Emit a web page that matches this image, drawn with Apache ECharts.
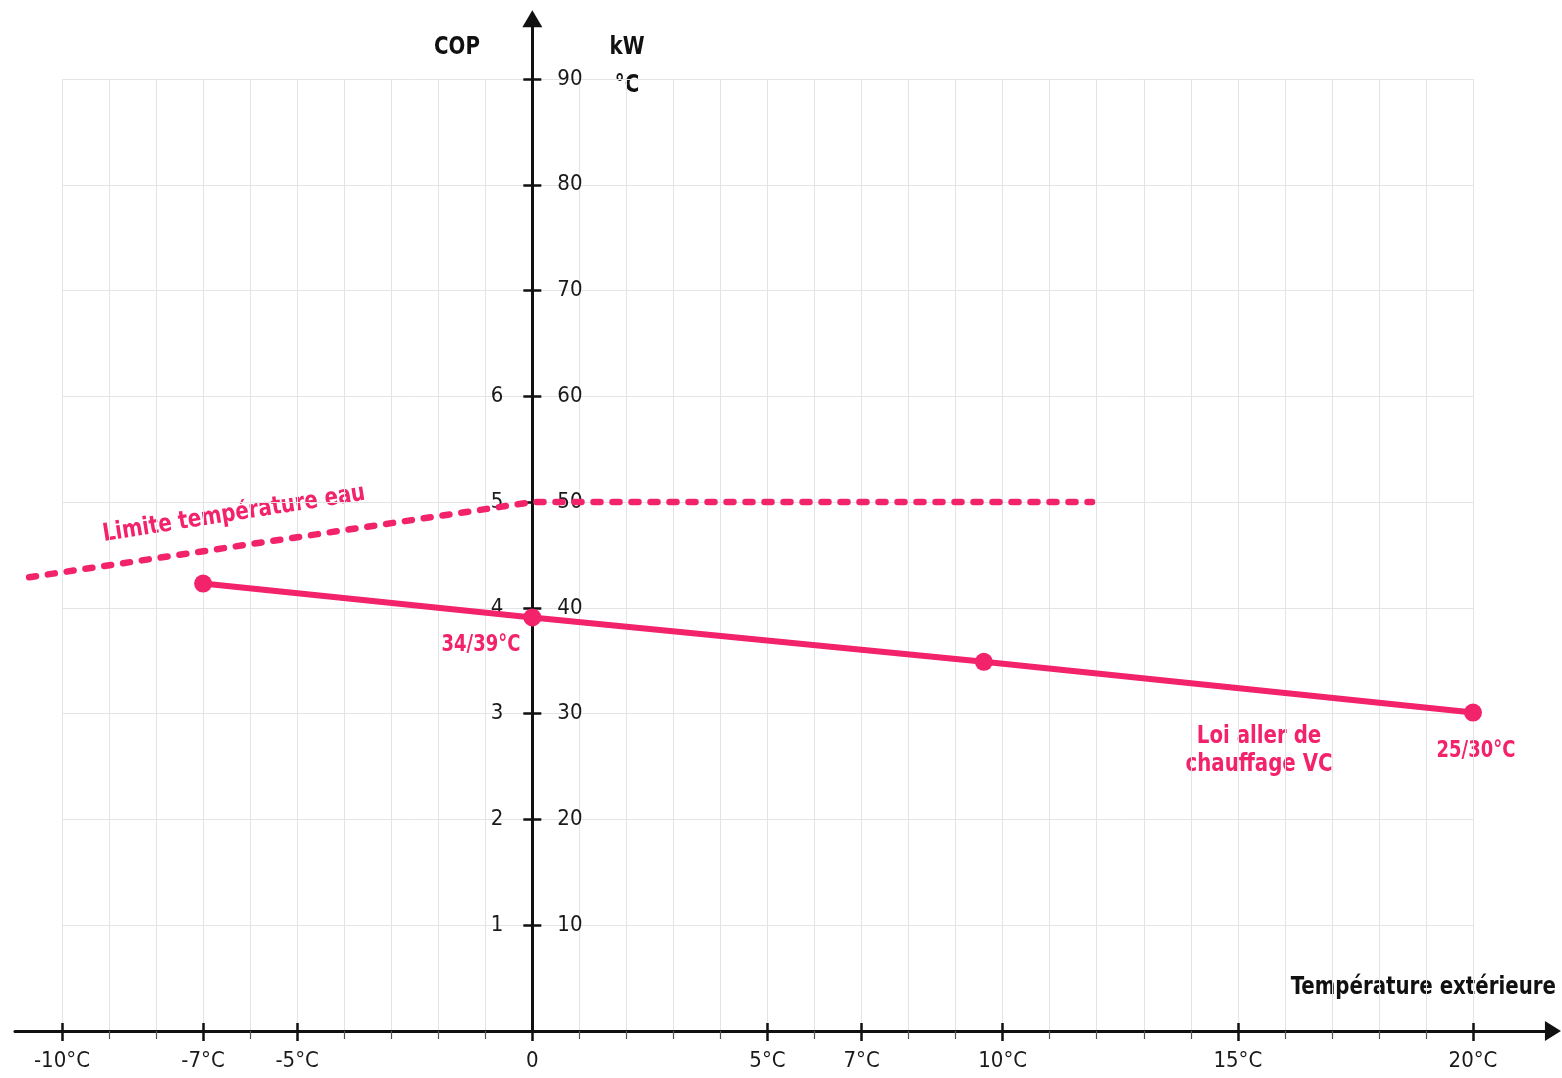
<!DOCTYPE html>
<html><head><meta charset="utf-8">
<script src="https://cdn.jsdelivr.net/npm/echarts@6/dist/echarts.min.js"></script>
<style>html,body{margin:0;padding:0;background:#fff}#c{width:1562px;height:1078px}</style>
</head><body><div id="c"></div>
<script>
// ---- data ----
const xMajorTicks = [-10, -7, -5, 0, 5, 7, 10, 15, 20];
const xMinorTicks = [-9, -8, -6, -4, -3, -2, -1, 1, 2, 3, 4, 6, 8, 9, 11, 12, 13, 14, 16, 17, 18, 19];
const yTicks = [10, 20, 30, 40, 50, 60, 70, 80, 90];
const copTicks = [10, 20, 30, 40, 50, 60];
const loiX = [-7, 0, 9.6, 20];
const loiY = [42.3, 39.1, 34.9, 30.1];
const limiteX = [-10.7, 0, 11.9];
const limiteY = [42.9, 50, 50];

// ---- layout ----
const FONT = "'Liberation Sans Narrow','DejaVu Sans Condensed','Noto Sans',sans-serif";
const PINK = '#F2226B';
const sx = 1411 / 30;   // px per degree
const sy = 952 / 90;    // px per unit
const plotLeft = 62, plotTop = 79, axisY = 1031;
const fullMinX = -11, fullMaxX = 21.7, fullMaxY = 95.7;
const fullLeft = plotLeft + (fullMinX + 10) * sx;
const fullWidth = (fullMaxX - fullMinX) * sx;
const fullHeight = fullMaxY * sy;

const chart = echarts.init(document.getElementById('c'));
const hidden = { show: false };
const axisColor = '#111';
const labelStyle = { fontFamily: FONT, fontSize: 22, color: '#1a1a1a' };
const TS = 1.12; // vertical stretch to mimic the tall condensed face

function txt(x, y, text, size, fill, extra) {
  return Object.assign({ type: 'text', x: x, y: y, scaleY: TS,
    style: { text: text, font: `bold ${size}px ${FONT}`, fill: fill, align: 'center', verticalAlign: 'middle', lineHeight: 25 } }, extra || {});
}

const graphics = [
  txt(457, 48, 'COP', 22, '#111'),
  txt(627, 48, 'kW', 22, '#111'),
  txt(627, 86, '°C', 22, '#111'),
  txt(1556, 988, 'Température extérieure', 22, '#111'),
  txt(234, 514, 'Limite température eau', 22, PINK, { rotation: 9 * Math.PI / 180 }),
  txt(481, 645, '34/39°C', 20, PINK),
  txt(1259, 751, 'Loi aller de\nchauffage VC', 22, PINK),
  txt(1476, 751, '25/30°C', 20, PINK)
];
graphics[3].style.align = 'right';

chart.setOption({
  animation: false,
  backgroundColor: '#fff',
  grid: [
    { left: plotLeft, top: plotTop, width: 30 * sx, height: 90 * sy, outerBoundsMode: 'none', containLabel: false },
    { left: fullLeft, top: axisY - fullHeight, width: fullWidth, height: fullHeight, outerBoundsMode: 'none', containLabel: false }
  ],
  xAxis: [
    { gridIndex: 0, type: 'value', min: -10, max: 20, interval: 1,
      axisLine: hidden, axisTick: hidden, axisLabel: hidden,
      splitLine: { show: true, lineStyle: { color: '#e4e4e4', width: 1 } } },
    { gridIndex: 1, type: 'value', min: fullMinX, max: fullMaxX, position: 'bottom',
      axisLine: { onZero: false, lineStyle: { color: axisColor, width: 3 },
        symbol: ['none', 'triangle'], symbolSize: [20, 16] },
      axisTick: { customValues: xMajorTicks, length: 10, lineStyle: { color: axisColor, width: 2.5 } },
      axisLabel: Object.assign({ customValues: xMajorTicks, margin: 19,
        formatter: v => v === 0 ? '0' : v + '°C' }, labelStyle),
      splitLine: hidden },
    { gridIndex: 1, type: 'value', min: fullMinX, max: fullMaxX, position: 'bottom',
      axisLine: { show: false, onZero: false },
      axisTick: { customValues: xMajorTicks, inside: true, length: 8, lineStyle: { color: axisColor, width: 2.5 } },
      axisLabel: { show: false, customValues: xMajorTicks },
      splitLine: hidden },
    { gridIndex: 1, type: 'value', min: fullMinX, max: fullMaxX, position: 'bottom',
      axisLine: { show: false, onZero: false },
      axisTick: { customValues: xMinorTicks, length: 8, lineStyle: { color: '#555', width: 1.2 } },
      axisLabel: { show: false, customValues: xMinorTicks },
      splitLine: hidden }
  ],
  yAxis: [
    { gridIndex: 0, type: 'value', min: 0, max: 90, interval: 10,
      axisLine: hidden, axisTick: hidden, axisLabel: hidden,
      splitLine: { show: true, lineStyle: { color: '#e4e4e4', width: 1 } } },
    { gridIndex: 1, type: 'value', min: 0, max: fullMaxY, position: 'left', offset: fullMinX * sx,
      axisLine: { onZero: false, lineStyle: { color: axisColor, width: 3 },
        symbol: ['none', 'triangle'], symbolSize: [20, 17] },
      axisTick: { customValues: yTicks, length: 9, lineStyle: { color: axisColor, width: 2.5 } },
      axisLabel: Object.assign({ customValues: copTicks, margin: 29,
        formatter: v => String(v / 10) }, labelStyle),
      splitLine: hidden },
    { gridIndex: 1, type: 'value', min: 0, max: fullMaxY, position: 'right', offset: -fullMaxX * sx,
      axisLine: { onZero: false, show: false },
      axisTick: { customValues: yTicks, length: 9, lineStyle: { color: axisColor, width: 2.5 } },
      axisLabel: Object.assign({ customValues: yTicks, margin: 25 }, labelStyle),
      splitLine: hidden }
  ],
  series: [
    { name: 'Limite température eau', type: 'line', xAxisIndex: 1, yAxisIndex: 1,
      data: limiteX.map((x, i) => [x, limiteY[i]]), symbol: 'none', z: 4,
      lineStyle: { color: PINK, width: 6.5, type: [7, 12], cap: 'round' } },
    { name: 'Loi aller de chauffage VC', type: 'line', xAxisIndex: 1, yAxisIndex: 1,
      data: loiX.map((x, i) => [x, loiY[i]]), symbol: 'circle', symbolSize: 18, z: 5,
      lineStyle: { color: PINK, width: 6 }, itemStyle: { color: PINK } }
  ],
  graphic: graphics
});
</script></body></html>
